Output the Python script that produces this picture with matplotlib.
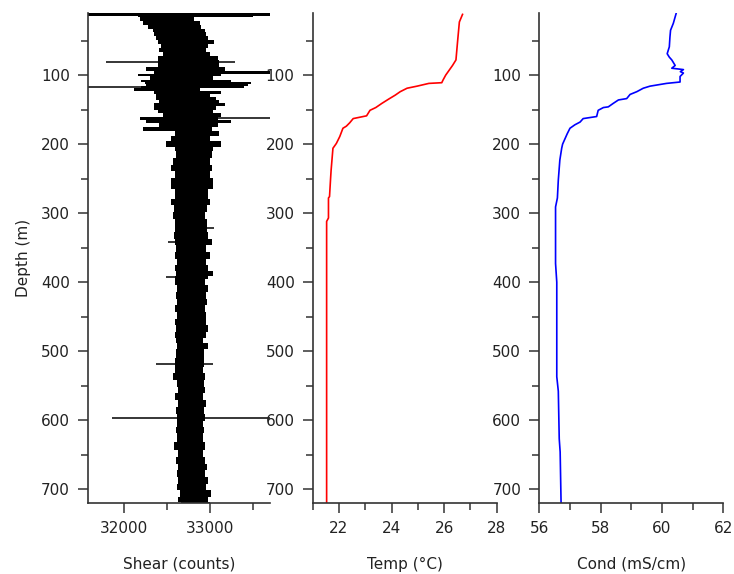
import numpy as np
import matplotlib
matplotlib.use("Agg")
import matplotlib.pyplot as plt

# shear envelope (min / max counts at each depth)
shear_depth = [10, 13, 15, 18, 25, 30, 35, 40, 46, 51, 58, 64, 70, 75, 81, 86, 91, 96, 100, 104,
               109, 112, 115, 117, 121, 124, 130, 133, 138, 143, 147, 153, 158, 162, 167, 172, 178, 184, 191, 201,
               206, 215, 225, 235, 244, 255, 274, 284, 293, 303, 313, 322, 332, 342, 351, 361, 371, 380, 389, 392,
               400, 409, 419, 429, 438, 448, 458, 467, 477, 484, 491, 503, 518, 527, 537, 547, 556, 566, 576, 585,
               597, 605, 614, 624, 639, 648, 658, 668, 677, 687, 697, 706, 716, 720]
shear_lo = [31580, 31580, 32160, 32180, 32220, 32280, 32340, 32350, 32370, 32390, 32430, 32410, 32450, 32390, 32390, 32390, 32260, 32350, 32160, 32300,
            32200, 32240, 32260, 32200, 32120, 32350, 32370, 32370, 32410, 32350, 32350, 32390, 32450, 32180, 32260, 32410, 32220, 32590, 32550, 32490,
            32590, 32610, 32570, 32550, 32590, 32550, 32590, 32550, 32580, 32570, 32595, 32590, 32580, 32590, 32610, 32595, 32620, 32595, 32610, 32595,
            32595, 32620, 32610, 32620, 32595, 32620, 32595, 32610, 32595, 32610, 32620, 32610, 32595, 32595, 32570, 32620, 32630, 32595, 32630, 32610,
            32620, 32620, 32610, 32620, 32580, 32630, 32610, 32630, 32620, 32630, 32620, 32650, 32630, 32660]
shear_hi = [33700, 33700, 33500, 32820, 32880, 32900, 32940, 32960, 32980, 33050, 32980, 32960, 33000, 33090, 33110, 33110, 33170, 33700, 33130, 33040,
            33250, 33480, 33440, 33400, 32880, 33130, 33000, 33070, 33110, 33170, 33070, 33040, 33130, 33100, 33250, 33090, 33020, 33110, 33000, 33130,
            33040, 33020, 33000, 33020, 33000, 33040, 32980, 33000, 32970, 32945, 32970, 32970, 32980, 33020, 32960, 33000, 32960, 32980, 33040, 32980,
            32940, 32980, 32960, 32970, 32945, 32960, 32960, 32980, 32960, 32920, 32980, 32930, 32930, 32920, 32940, 32930, 32940, 32920, 32960, 32930,
            32940, 32920, 32930, 32920, 32940, 32920, 32940, 32970, 32945, 32980, 32960, 33010, 32980, 33000]

# thin spikes in the shear record
spike_depth = [81, 117, 162, 322, 342, 392, 518, 597]
spike_lo = [31790, 31580, 32180, 32590, 32510, 32490, 32370, 31860]
spike_hi = [33290, 33400, 33700, 33050, 33020, 32980, 33040, 33700]

temp_depth = [12, 23, 52, 78, 86, 93, 100, 107, 111, 112, 116, 119, 124, 129, 135, 141, 147, 151, 159, 163,
              169, 174, 177, 189, 199, 206, 238, 250, 276, 278, 307, 312, 720]
temp = [26.70, 26.58, 26.51, 26.45, 26.32, 26.19, 26.06, 25.96, 25.91, 25.42, 24.97, 24.59, 24.33, 24.14, 23.88, 23.63, 23.40, 23.18, 23.05, 22.54,
        22.41, 22.28, 22.15, 22.03, 21.90, 21.77, 21.70, 21.68, 21.64, 21.60, 21.60, 21.53, 21.53]

cond_depth = [11, 25, 35, 45, 59, 69, 74, 78, 86, 90, 92, 95, 97, 102, 110, 112, 116, 119, 124, 128,
              134, 136, 141, 146, 147, 151, 160, 163, 168, 172, 177, 185, 192, 200, 206, 223, 252, 278, 291, 373,
              400, 537, 558, 627, 646, 720]
cond = [60.46, 60.37, 60.28, 60.26, 60.24, 60.17, 60.24, 60.32, 60.43, 60.32, 60.70, 60.60, 60.70, 60.59, 60.59, 60.15, 59.61, 59.39, 59.18, 58.96,
        58.85, 58.58, 58.41, 58.25, 58.09, 57.92, 57.87, 57.43, 57.33, 57.16, 57.00, 56.91, 56.84, 56.76, 56.73, 56.67, 56.62, 56.59, 56.53, 56.53,
        56.57, 56.57, 56.62, 56.65, 56.68, 56.71]

depth_ticks = [100, 200, 300, 400, 500, 600, 700]
depth_minor = [50, 150, 250, 350, 450, 550, 650]

plt.rcParams['font.family'] = 'DejaVu Sans'
plt.rcParams['font.size'] = 11
txt = '#222222'


def style_axis(ax, xlim, major, minor, xlabel):
    ax.set_xlim(*xlim)
    ax.set_ylim(720, 10)
    ax.set_xticks(major)
    ax.set_xticks(minor, minor=True)
    ax.set_yticks(depth_ticks)
    ax.set_yticks(depth_minor, minor=True)
    ax.spines['top'].set_visible(False)
    ax.spines['right'].set_visible(False)
    for s in ['left', 'bottom']:
        ax.spines[s].set_color('#333333')
        ax.spines[s].set_linewidth(1.2)
    ax.tick_params(which='major', length=7, width=1.1, color='#333333', labelcolor=txt, pad=6)
    ax.tick_params(which='minor', length=5, width=1.1, color='#333333')
    ax.set_xlabel(xlabel, labelpad=15, color=txt)


fig = plt.figure(figsize=(7.34, 5.74), dpi=100)

ax1 = fig.add_axes([88 / 734, 1 - 503 / 574, 182 / 734, 490 / 574])
ax1.fill_betweenx(shear_depth, shear_lo, shear_hi, step='mid', color='black', lw=0)
ax1.hlines(spike_depth, spike_lo, spike_hi, color='black', lw=1.1)
style_axis(ax1, (31580, 33700), [32000, 33000], [32500, 33500], 'Shear (counts)')
ax1.set_ylabel('Depth (m)', labelpad=7, color=txt)

ax2 = fig.add_axes([312.7 / 734, 1 - 503 / 574, 184 / 734, 490 / 574])
ax2.plot(temp, temp_depth, color='#ff0000', lw=1.2)
style_axis(ax2, (21, 28), [22, 24, 26, 28], [21, 23, 25, 27], 'Temp (°C)')

ax3 = fig.add_axes([539.3 / 734, 1 - 503 / 574, 184 / 734, 490 / 574])
ax3.plot(cond, cond_depth, color='#0000ff', lw=1.2)
style_axis(ax3, (56, 62), [56, 58, 60, 62], [57, 59, 61], 'Cond (mS/cm)')

plt.savefig('out.png', dpi=100)
